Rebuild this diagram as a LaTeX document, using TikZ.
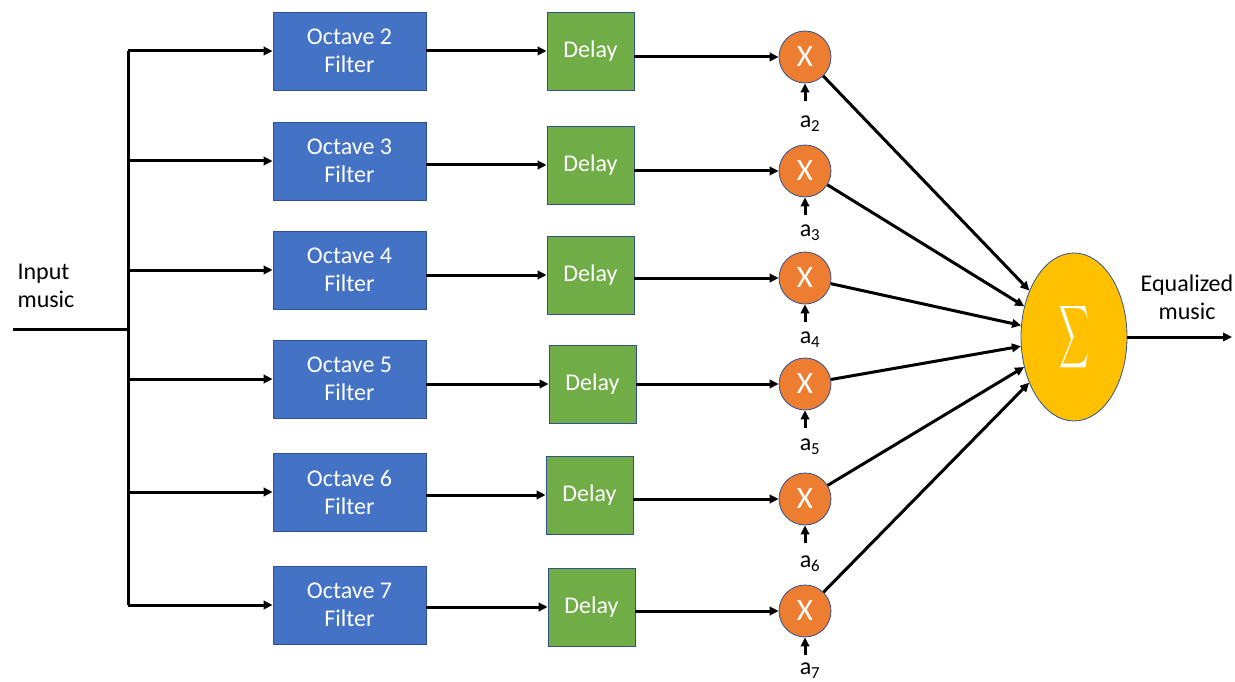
\documentclass[tikz,border=0pt]{standalone}
\usepackage{fontspec}
\setmainfont{Carlito}
\usetikzlibrary{arrows.meta,shapes.geometric}
\definecolor{fblue}{HTML}{4472C4}
\definecolor{fbord}{HTML}{2F528F}
\definecolor{dgreen}{HTML}{70AD47}
\definecolor{morange}{HTML}{ED7D31}
\definecolor{sgold}{HTML}{FFC000}
\begin{document}
\begin{tikzpicture}[x=1pt,y=-1pt,
  filterbox/.style={draw=fbord,line width=0.8pt,fill=fblue,minimum width=153pt,minimum height=78pt,text=white,align=center,font=\fontsize{24}{28}\selectfont,inner sep=0pt},
  delaybox/.style={draw=fbord,line width=0.8pt,fill=dgreen,minimum width=87pt,minimum height=78pt,text=white,font=\fontsize{24}{28}\selectfont,inner sep=0pt},
  multnode/.style={circle,draw=fbord,line width=0.8pt,fill=morange,minimum size=52pt,inner sep=0pt,text=white,font=\fontsize{31}{31}\selectfont},
  lbl/.style={font=\fontsize{24}{28}\selectfont,align=center},
  conn/.style={line width=3pt,-{Triangle[length=9pt,width=8.5pt]}},
  plain/.style={line width=3pt}
]
\useasboundingbox (0,0) rectangle (1235,682);
% filters
\node[filterbox] (f2) at (349.5,51) {Octave 2\\Filter};
\node[filterbox] (f3) at (349.5,161) {Octave 3\\Filter};
\node[filterbox] (f4) at (349.5,270) {Octave 4\\Filter};
\node[filterbox] (f5) at (349.5,379) {Octave 5\\Filter};
\node[filterbox] (f6) at (349.5,492) {Octave 6\\Filter};
\node[filterbox] (f7) at (349.5,605) {Octave 7\\Filter};
% delays
\node[delaybox] (d2) at (590.5,51) {Delay};
\node[delaybox] (d3) at (590.5,165) {Delay};
\node[delaybox] (d4) at (590.5,275) {Delay};
\node[delaybox] (d5) at (592.5,384) {Delay};
\node[delaybox] (d6) at (589.5,495) {Delay};
\node[delaybox] (d7) at (591.5,607) {Delay};
% multipliers
\node[multnode] (m2) at (805,57) {X};
\node[multnode] (m3) at (805,171) {X};
\node[multnode] (m4) at (805,278) {X};
\node[multnode] (m5) at (805,384) {X};
\node[multnode] (m6) at (805,499) {X};
\node[multnode] (m7) at (805,611) {X};
% coefficient labels
\node[lbl] (a2) at (810,124) {a\textsubscript{2}};
\node[lbl] (a3) at (810,233) {a\textsubscript{3}};
\node[lbl] (a4) at (810,340) {a\textsubscript{4}};
\node[lbl] (a5) at (810,447) {a\textsubscript{5}};
\node[lbl] (a6) at (810,564) {a\textsubscript{6}};
\node[lbl] (a7) at (810,671) {a\textsubscript{7}};
% sum
\node[ellipse,draw=fbord,line width=0.8pt,fill=sgold,minimum width=106pt,minimum height=168pt,inner sep=0pt,text=white] (sum) at (1074,337) {\resizebox{30pt}{46pt}{$\displaystyle\sum$}};
% texts
\node[lbl,align=left] (inp) at (46,286) {Input\\music};
\node[lbl] (eq) at (1187,297) {Equalized\\music};
% input lines
\coordinate (in0) at (13,329);
\coordinate (bus) at (128,329);
\coordinate (bt) at (128,51);
\coordinate (bb) at (128,605);
\coordinate (out) at (1232,337);
\draw[plain] (in0) -- (bus);
\draw[plain] (bt) -- (bb);
\foreach \k in {2,...,7}{
  \draw[conn] (bt |- f\k) -- (f\k.west);
  \draw[conn] (f\k.east |- d\k) -- (d\k.west);
  \draw[conn] (d\k.east |- m\k) -- (m\k.west);
  \coordinate (ab\k) at ([yshift=-18pt]m\k.south);
  \draw[conn] (ab\k) -- (m\k.south);
  \draw[conn] (m\k) -- (sum);
}
\draw[conn] (sum.east) -- (out);
\end{tikzpicture}
\end{document}
